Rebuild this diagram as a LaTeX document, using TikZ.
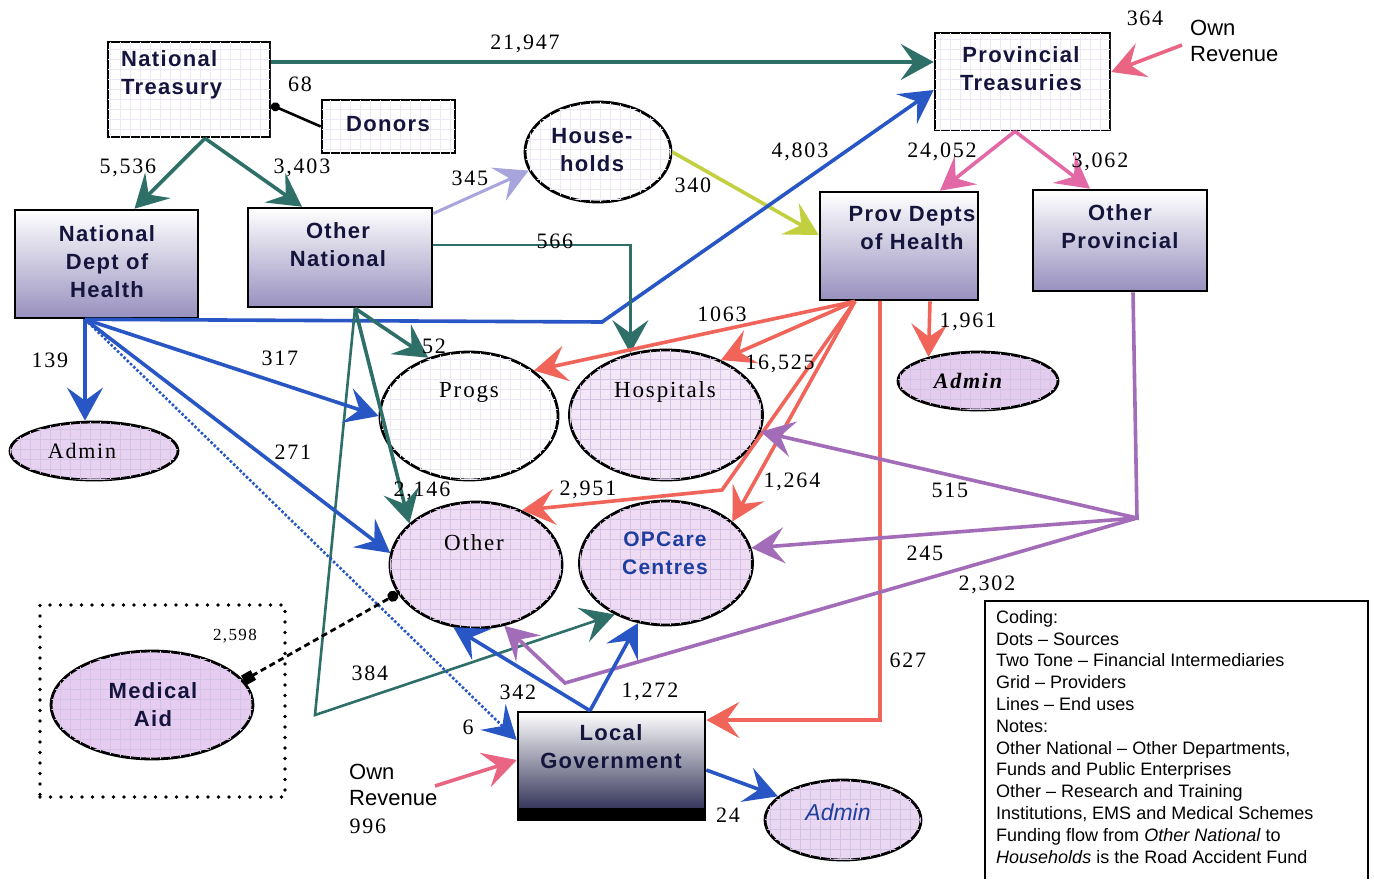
\documentclass[tikz,border=0pt]{standalone}
\usepackage{fontspec}
\setmainfont{Liberation Serif}
\setsansfont{Liberation Sans}
\newfontfamily\bxf[LetterSpace=6]{Liberation Sans}
\newfontfamily\numf[LetterSpace=8]{Liberation Serif}
\newfontfamily\legf{Liberation Sans}
\usetikzlibrary{arrows.meta,shapes.geometric,patterns.meta,calc}
\definecolor{navyt}{HTML}{14143C}
\definecolor{tealc}{HTML}{2E6F68}
\definecolor{bluec}{HTML}{2856C4}
\definecolor{redc}{HTML}{F0645A}
\definecolor{pinkc}{HTML}{E268A6}
\definecolor{orc}{HTML}{EA6484}
\definecolor{purc}{HTML}{A36CB8}
\definecolor{lavc}{HTML}{A8A4DC}
\definecolor{ygc}{HTML}{C2D040}
\definecolor{gridcol}{HTML}{D2C4E2}
\definecolor{gridlt}{HTML}{EEE8F5}
\definecolor{ttmid}{HTML}{E6C8EE}
\definecolor{ttbot}{HTML}{9890BE}
\definecolor{lgmid}{HTML}{C8B4E4}
\definecolor{lgbot}{HTML}{1E1E48}
\definecolor{optxt}{HTML}{1F3FA0}
\definecolor{fhosp}{HTML}{F3E6F6}
\definecolor{fother}{HTML}{EFDBF3}
\definecolor{fadl}{HTML}{E8D2F1}
\definecolor{fadr}{HTML}{E4CCEE}
\definecolor{fadb}{HTML}{EAD8F3}
\definecolor{fmed}{HTML}{E6CCF0}
\tikzset{
  boxsh/.style={draw=black, line width=2.6pt, inner sep=0pt},
  srcfill/.style={fill=white, postaction={pattern={Hatch[angle=0,distance=10pt,line width=0.3pt]}, pattern color=gridlt}},
  twotone/.style={top color=white, middle color=ttmid, bottom color=ttbot},
  provell/.style={ellipse, draw=black, line width=2.8pt, inner sep=0pt, fill=#1,
     postaction={pattern={Hatch[angle=0,distance=10pt,line width=0.4pt]}, pattern color=gridcol}},
  arr/.style={line width=3.6pt, -{Stealth[length=33pt,width=36pt,inset=13pt]}},
  boxtxt/.style={font=\bxf\bfseries\fontsize{22}{28}\selectfont, text=navyt, align=center, inner sep=0pt},
  num/.style={font=\numf\fontsize{22}{24}\selectfont, text=black, inner sep=0pt},
}
\begin{document}
\begin{tikzpicture}[x=1pt,y=-1pt]
\useasboundingbox (0,0) rectangle (1374,879);
\fill[white] (0,0) rectangle (1374,879);

% ---------- shapes ----------
\node[boxsh, srcfill, minimum width=162pt, minimum height=95pt] (nt) at (189,89.5) {};
\node[boxsh, srcfill, minimum width=133pt, minimum height=53pt] (donors) at (388.5,126.5) {};
\node[ellipse, draw=black, line width=2.8pt, inner sep=0pt, srcfill, minimum width=146pt, minimum height=100pt] (hh) at (598,152) {};
\node[boxsh, srcfill, minimum width=175pt, minimum height=97pt] (pt) at (1022.5,81.5) {};
\node[boxsh, twotone, minimum width=183pt, minimum height=108pt] (ndoh) at (106.5,264) {};
\node[boxsh, twotone, minimum width=184pt, minimum height=99pt] (on) at (340,257.5) {};
\node[boxsh, twotone, minimum width=158pt, minimum height=108pt] (pdh) at (899,246) {};
\node[boxsh, twotone, minimum width=174pt, minimum height=101pt] (op) at (1120,240.5) {};
\node[boxsh, top color=white, middle color=lgmid, bottom color=lgbot, minimum width=187pt, minimum height=108pt,
  path picture={\fill[black] (path picture bounding box.south west) rectangle ([yshift=12pt]path picture bounding box.south east);}] (lg) at (611.5,766) {};

\node[ellipse, draw=black, line width=2.8pt, inner sep=0pt, srcfill, minimum width=178pt, minimum height=128pt] (progs) at (469,416) {};
\node[provell=fhosp, minimum width=193pt, minimum height=130pt] (hosp) at (666,415) {};
\node[provell=fother, minimum width=172pt, minimum height=126pt] (other) at (476,565) {};
\node[provell=fother, minimum width=173pt, minimum height=124pt] (opc) at (666,563) {};
\node[provell=fadl, minimum width=168pt, minimum height=58pt] (adminL) at (94,451) {};
\node[provell=fadr, minimum width=160pt, minimum height=58pt] (adminR) at (978,381) {};
\node[provell=fadb, minimum width=156pt, minimum height=80pt] (adminB) at (843,820) {};
\node[provell=fmed, minimum width=202pt, minimum height=108pt] (med) at (152,705) {};
\node[draw=black, line width=3.8pt, line cap=round, dash pattern=on 0pt off 10.5pt, minimum width=245pt, minimum height=192pt, inner sep=0pt] (medbox) at (162.5,701) {};

% ---------- helper coordinates ----------
\coordinate (bk) at (602,322);
\coordinate (tk) at (315,715);
\coordinate (rk) at (722,490);
\coordinate (pk) at (1137,518);
\coordinate (pk2) at (565,683);
\coordinate (orTop) at (1182,45);
\coordinate (olStart) at (435,786);

% ---------- connectors ----------
\draw[arr, tealc] ([yshift=27.5pt]nt.east) -- ([yshift=19.5pt]pt.west);
\draw[line width=2.6pt, -{Circle[length=9pt]}] (donors.west) -- ([yshift=-15.5pt]nt.east);
\draw[arr, tealc] ([xshift=16pt]nt.south) -- ([xshift=28pt]ndoh.north);
\draw[arr, tealc] ([xshift=16pt]nt.south) -- ([xshift=-38pt]on.north);
\draw[arr, lavc, line width=3pt] ([yshift=44pt]on.east) -- (hh.195);
\draw[arr, ygc] (hh.east) -- ([yshift=11pt]pdh.west);
\draw[arr, bluec] ([xshift=-21.5pt]ndoh.south) -- (bk) -- ([yshift=-8.5pt]pt.west);
\draw[arr, tealc, line width=2.6pt] ([yshift=12.5pt]on.east) -| (hosp.120);
\draw[arr, tealc] ([xshift=15pt]on.south) -- (progs.125);
\draw[arr, tealc] ([xshift=15pt]on.south) -- (other.148);
\draw[arr, tealc, line width=2.6pt] ([xshift=15pt]on.south) -- (tk) -- (opc.225);
\draw[arr, bluec] ([xshift=-21.5pt]ndoh.south) -- ([xshift=-9pt]adminL.north);
\draw[arr, bluec] ([xshift=-21.5pt]ndoh.south) -- (progs.180);
\draw[arr, bluec] ([xshift=-21.5pt]ndoh.south) -- (other.172);
\draw[arr, bluec, line width=2.6pt, dash pattern=on 2.5pt off 2pt] ([xshift=-21.5pt]ndoh.south) -- ([yshift=26pt]lg.west);

\draw[arr, redc] ([xshift=-44pt]pdh.south) -- (progs.35);
\draw[arr, redc] ([xshift=-44pt]pdh.south) -- (hosp.45);
\draw[arr, redc] ([xshift=-44pt]pdh.south) -- (rk) -- (other.50);
\draw[arr, redc] ([xshift=-44pt]pdh.south) -- (opc.32);
\draw[arr, redc] ([xshift=-19pt]pdh.south) |- ([yshift=46pt]lg.east);
\draw[arr, redc] ([xshift=31pt]pdh.south) -- (adminR.154);

\draw[arr, pinkc] ([xshift=-7.5pt]pt.south) -- ([xshift=41pt]pdh.north);
\draw[arr, pinkc] ([xshift=-7.5pt]pt.south) -- ([xshift=-30pt]op.north);
\draw[arr, orc] (orTop) -- ([yshift=9.5pt]pt.east);

\draw[arr, purc] ([xshift=13pt]op.south) -- (pk) -- (hosp.350);
\draw[arr, purc] (pk) -- (opc.10);
\draw[arr, purc] (pk) -- (pk2) -- (other.295);

\draw[arr, bluec] ([xshift=-21.5pt]lg.north) -- (other.250);
\draw[arr, bluec] ([xshift=-21.5pt]lg.north) -- (opc.245);
\draw[arr, orc] (olStart) -- ([yshift=6pt]lg.west);
\draw[arr, bluec] ([yshift=-4pt]lg.east) -- (adminB.160);

\draw[line width=2.8pt, dash pattern=on 6pt off 4pt, {Square[length=11pt,width=11pt]}-{Circle[length=11pt]}] (med.15) -- (other.200);

% ---------- box / shape texts ----------
\node[boxtxt, align=left, anchor=north west] (tNT) at (121,50) {National\\Treasury};
\node[boxtxt] (tDon) at (388,124) {Donors};
\node[boxtxt] (tHH) at (592,150) {House-\\holds};
\node[boxtxt] (tPT) at (1021,69) {Provincial\\Treasuries};
\node[boxtxt, font=\legf\fontsize{22}{26}\selectfont, text=black, align=left, anchor=west] (tOwnR) at (1190,41) {Own\\Revenue};
\node[boxtxt] (tND) at (107,262) {National\\Dept of\\Health};
\node[boxtxt] (tON) at (338,245) {Other\\National};
\node[boxtxt] (tPD) at (912,228) {Prov Depts\\of Health};
\node[boxtxt] (tOP) at (1120,227) {Other\\Provincial};
\node[boxtxt] (tLG) at (611,747) {Local\\Government};
\node[boxtxt, font=\legf\fontsize{22}{26}\selectfont, text=black, align=left, anchor=west] (tOwnL) at (349,785) {Own\\Revenue};
\node[boxtxt] (tMed) at (153,705) {Medical\\Aid};

\node[num, font=\numf\fontsize{23}{24}\selectfont] (tProgs) at (469,392) {Progs};
\node[num, font=\numf\fontsize{23}{24}\selectfont] (tHosp) at (665,392) {Hospitals};
\node[num, font=\numf\fontsize{23}{24}\selectfont] (tOther) at (474,543) {Other};
\node[boxtxt, text=optxt, font=\bxf\bfseries\fontsize{21}{28}\selectfont] (tOPC) at (665,553) {OPCare\\Centres};
\node[num, font=\numf\fontsize{22}{24}\selectfont] (tAdL) at (82,451) {Admin};
\node[num, font=\numf\bfseries\itshape\fontsize{22}{24}\selectfont] (tAdR) at (968,381) {Admin};
\node[num, font=\legf\itshape\fontsize{23}{24}\selectfont, text=optxt] (tAdB) at (838,812) {Admin};

% ---------- flow values ----------
\node[num] (v1) at (525,44) {21,947};
\node[num] (v2) at (300,84) {68};
\node[num] (v3) at (128,168) {5,536};
\node[num] (v4) at (302,168) {3,403};
\node[num] (v5) at (470,178) {345};
\node[num] (v6) at (693,185) {340};
\node[num] (v7) at (800,152) {4,803};
\node[num] (v8) at (555,241) {566};
\node[num] (v9) at (434,346) {52};
\node[num] (v10) at (722,314) {1063};
\node[num] (v11) at (780,364) {16,525};
\node[num] (v12) at (968,322) {1,961};
\node[num] (v13) at (942,152) {24,052};
\node[num] (v14) at (1100,162) {3,062};
\node[num] (v15) at (1145,18) {364};
\node[num] (v16) at (50,360) {139};
\node[num] (v17) at (280,358) {317};
\node[num] (v18) at (293,452) {271};
\node[num] (v19) at (422,491) {2,146};
\node[num] (v20) at (588,490) {2,951};
\node[num] (v21) at (792,482) {1,264};
\node[num] (v22) at (950,490) {515};
\node[num] (v23) at (925,553) {245};
\node[num] (v24) at (987,585) {2,302};
\node[num] (v25) at (908,660) {627};
\node[num, font=\numf\fontsize{17}{20}\selectfont] (v26) at (235,636) {2,598};
\node[num] (v27) at (370,673) {384};
\node[num] (v28) at (518,692) {342};
\node[num] (v29) at (650,692) {1,272};
\node[num] (v30) at (468,727) {6};
\node[num] (v31) at (368,826) {996};
\node[num] (v32) at (728,815) {24};

% ---------- legend ----------
\draw[line width=2pt] (985,879) -- (985,601) -- (1368,601) -- (1368,879);
\node[anchor=north west, align=left, inner sep=0pt, font=\legf\fontsize{18}{21.8}\selectfont] (legend) at (996,610)
 {Coding:\\
  Dots – Sources\\
  Two Tone – Financial Intermediaries\\
  Grid – Providers\\
  Lines – End uses\\
  Notes:\\
  Other National – Other Departments,\\
  Funds and Public Enterprises\\
  Other – Research and Training\\
  Institutions, EMS and Medical Schemes\\
  Funding flow from \textit{Other National} to\\
  \textit{Households} is the Road Accident Fund};
\end{tikzpicture}
\end{document}
